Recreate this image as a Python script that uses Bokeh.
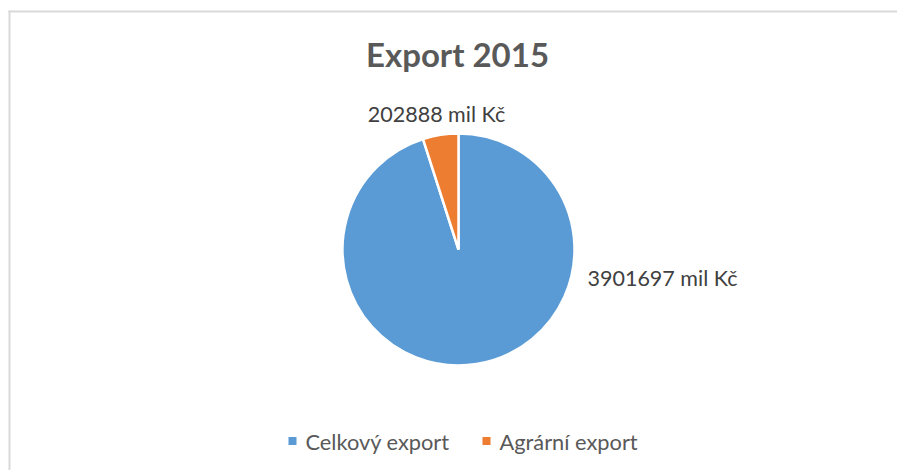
import math
from bokeh.plotting import figure
from bokeh.models import Range1d, ColumnDataSource
from bokeh.core.properties import value
from bokeh.embed import file_html
from bokeh.resources import INLINE

# ---- data ----
title_text = "Export 2015"
categories = ["Celkový export", "Agrární export"]
values = [3901697, 202888]
unit = "mil Kč"
colors = ["#5B9BD5", "#ED7D31"]

# ---- layout (picture pixels) ----
W, H = 897, 470


def fx(xi):
    return xi


def fy(yi):
    return H - yi


p = figure(width=W, height=H, output_backend="svg", toolbar_location=None,
           x_range=Range1d(0, W), y_range=Range1d(0, H), min_border=0)
p.axis.visible = False
p.grid.visible = False
p.outline_line_color = None
p.background_fill_color = "white"
p.border_fill_color = "white"

# chart-area border (top and left visible in reference)
p.segment(x0=[fx(8), fx(9)], y0=[fy(11), fy(10)], x1=[fx(897), fx(9)], y1=[fy(11), fy(470)],
          line_color="#D9D9D9", line_width=2)

# ---- pie ----
cx, cy, r = fx(458), fy(249), 116
total = sum(values)
starts, ends = [], []
cum = 0.0
for v in values:
    f0 = cum / total
    cum += v
    f1 = cum / total
    starts.append(math.pi / 2 - 2 * math.pi * f1)
    ends.append(math.pi / 2 - 2 * math.pi * f0)

src = ColumnDataSource(dict(x=[cx] * len(values), y=[cy] * len(values),
                            start=starts, end=ends, color=colors))
p.wedge(x="x", y="y", radius=r, start_angle="start", end_angle="end",
        direction="anticlock", fill_color="color", line_color="white",
        line_width=2.5, source=src)

# ---- data labels ----
label_texts = [f"{v} {unit}" for v in values]
label_x = [fx(587), fx(436)]
label_y = [fy(277), fy(113)]
label_align = ["left", "center"]
p.text(x=label_x, y=label_y, text=label_texts, text_align=label_align,
       text_baseline="alphabetic", text_font=value("Lato"),
       text_font_size="21.5px", text_color="#404040")

# ---- title ----
p.text(x=[fx(457)], y=[fy(53)], text=[title_text], text_align="center",
       text_baseline="alphabetic", text_font=value("Lato"),
       text_font_size="33px", text_font_style="bold", text_color="#595959")

# ---- legend ----
leg_marker_x = [fx(292), fx(486)]
leg_text_x = [fx(305), fx(499)]
leg_y = fy(440.5)
p.scatter(x=leg_marker_x, y=[leg_y] * 2, marker="square", size=8,
          fill_color=colors, line_color=None)
p.text(x=leg_text_x, y=[fy(441)] * 2, text=categories, text_align="left",
       text_baseline="alphabetic", text_font=value("Lato"),
       text_font_size="21.8px", text_color="#595959")

open("out.html", "w").write(file_html(p, INLINE))
